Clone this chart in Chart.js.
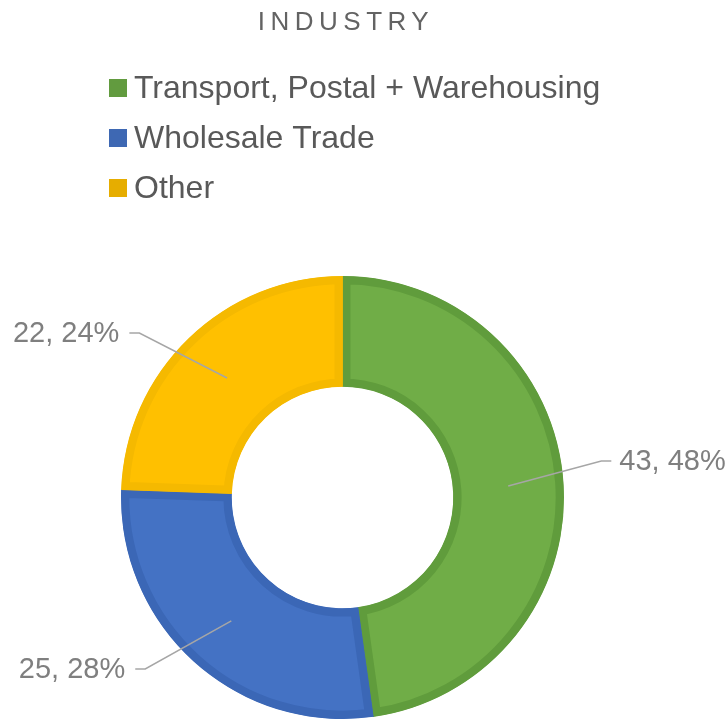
<!DOCTYPE html>
<html>
<head>
<meta charset="utf-8">
<script src="https://cdn.jsdelivr.net/npm/chart.js@4"></script>
<style>
  body { margin: 0; background: #fff; }
  canvas { display: block; }
</style>
</head>
<body>
<canvas id="chart" width="725" height="719"></canvas>
<script>
// data
const categories = ['Transport, Postal + Warehousing', 'Wholesale Trade', 'Other'];
const counts = [43, 25, 22];
const fills = ['#70ad47', '#4472c4', '#ffc000'];
const borders = ['#609c3c', '#3b67b6', '#f5b900'];
const legendSwatch = ['#629b3f', '#3e68b3', '#e6ad00'];

const total = counts.reduce((a, b) => a + b, 0);
const FONT = '"Liberation Sans", Arial, sans-serif';
// small angle nudges (degrees) so leader lines land like the original
const labelNudge = [-4, 7, -7];

// title + legend drawn at the top
const headerPlugin = {
  id: 'header',
  afterDraw(chart) {
    const ctx = chart.ctx;
    ctx.save();
    ctx.fillStyle = '#636363';
    ctx.font = '26px ' + FONT;
    ctx.letterSpacing = '5.5px';
    ctx.textAlign = 'center';
    ctx.textBaseline = 'middle';
    ctx.fillText('INDUSTRY', 346, 23);
    ctx.letterSpacing = '0px';

    ctx.font = '32px ' + FONT;
    ctx.textAlign = 'left';
    categories.forEach((name, i) => {
      const y = 88 + i * 50;
      ctx.fillStyle = legendSwatch[i];
      ctx.fillRect(109, y - 9, 18, 18);
      ctx.fillStyle = '#595959';
      ctx.fillText(name, 134, y + 1);
    });
    ctx.restore();
  }
};

// "value, pct%" labels with leader lines
const labelPlugin = {
  id: 'sliceLabels',
  afterDatasetsDraw(chart) {
    const ctx = chart.ctx;
    const meta = chart.getDatasetMeta(0);
    ctx.save();
    ctx.font = '29px ' + FONT;
    ctx.textBaseline = 'middle';
    meta.data.forEach((arc, i) => {
      const p = arc.getProps(['x', 'y', 'startAngle', 'endAngle', 'innerRadius', 'outerRadius'], true);
      const mid = (p.startAngle + p.endAngle) / 2;
      const rMid = (p.innerRadius + p.outerRadius) / 2;
      const sx = p.x + Math.cos(mid) * rMid;
      const sy = p.y + Math.sin(mid) * rMid;
      const a = mid + labelNudge[i] * Math.PI / 180;
      const rE = p.outerRadius * 1.18;
      const ex = p.x + Math.cos(a) * rE;
      const ey = p.y + Math.sin(a) * rE;
      const right = Math.cos(a) >= 0;
      const hx = ex + (right ? 10 : -10);

      ctx.strokeStyle = '#a6a6a6';
      ctx.lineWidth = 1.5;
      ctx.beginPath();
      ctx.moveTo(sx, sy);
      ctx.lineTo(ex, ey);
      ctx.lineTo(hx, ey);
      ctx.stroke();

      const pct = Math.round(counts[i] / total * 100);
      ctx.fillStyle = '#7f7f7f';
      ctx.textAlign = right ? 'left' : 'right';
      ctx.fillText(counts[i] + ', ' + pct + '%', hx + (right ? 8 : -10), ey + 1);
    });
    ctx.restore();
  }
};

new Chart(document.getElementById('chart'), {
  type: 'doughnut',
  data: {
    labels: categories,
    datasets: [{
      data: counts,
      backgroundColor: fills,
      borderColor: borders,
      borderWidth: 8,
      borderAlign: 'inner'
    }]
  },
  options: {
    responsive: false,
    animation: false,
    events: [],
    cutout: '50%',
    layout: { padding: { top: 276, bottom: 0, left: 0, right: 40 } },
    plugins: {
      legend: { display: false },
      tooltip: { enabled: false }
    }
  },
  plugins: [headerPlugin, labelPlugin]
});
</script>
</body>
</html>
